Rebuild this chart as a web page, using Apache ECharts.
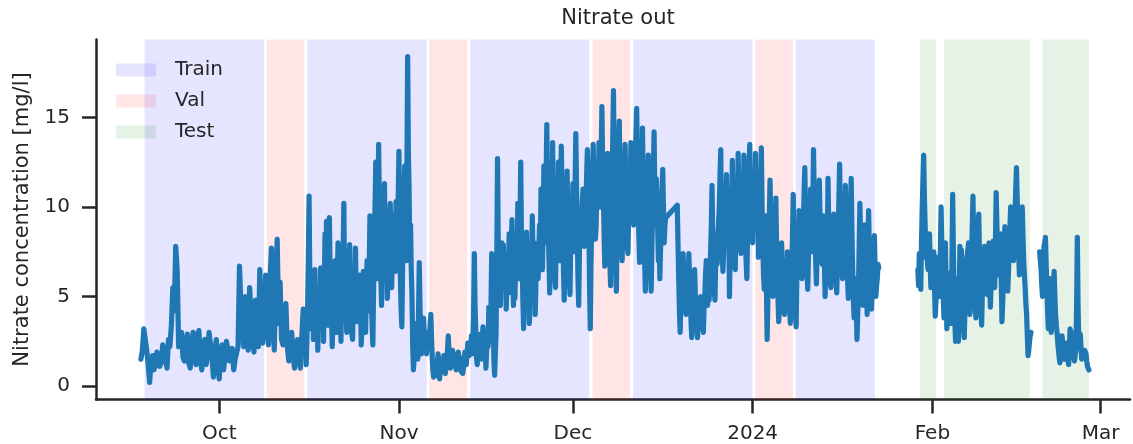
<!DOCTYPE html>
<html>
<head>
<meta charset="utf-8">
<script src="https://cdn.jsdelivr.net/npm/echarts@6/dist/echarts.min.js"></script>
<style>
html,body{margin:0;padding:0;background:#fff;}
#chart{width:1133px;height:444px;}
</style>
</head>
<body>
<div id="chart"></div>
<script>
// ---- data ----
const titleText = 'Nitrate out';
const yName = 'Nitrate concentration [mg/l]';
const tickDates = ['2023-10-01', '2023-11-01', '2023-12-01', '2024-01-01', '2024-02-01', '2024-03-01'];
const tickLabels = ['Oct', 'Nov', 'Dec', '2024', 'Feb', 'Mar'];
const yTicks = [0, 5, 10, 15];

// measurements, part 1a: one reading every 6 h
const seg1aStart = '2023-09-17T12:00:00Z';
const seg1aValues = [
  1.5, 2.0, 3.2, 2.6, 2.0, 1.2, 0.2, 1.4, 1.7, 0.9, 1.2, 1.9, 2.0, 1.1, 1.3, 2.3, 2.4, 1.5, 1.0, 2.6,
  2.2, 3.4, 5.5, 4.2, 7.8, 6.5, 2.2, 2.8, 3.0, 1.6, 1.4, 2.4, 2.9, 1.3, 1.0, 2.2, 3.0, 1.7, 1.2, 2.8,
  3.1, 1.5, 0.9, 2.4, 2.6, 1.2, 1.8, 3.0, 2.9, 1.6, 0.5, 1.9, 2.6, 1.1, 0.4, 2.0, 2.3, 0.9, 1.0, 2.5,
  2.0, 1.4, 1.3, 2.1, 0.9, 1.5, 1.6, 2.2, 6.7, 4.4, 3.0, 2.2, 5.0, 3.1, 2.0, 5.5, 4.0, 2.6, 1.9, 4.8,
  3.0, 2.2, 6.5, 3.6, 2.4, 3.5, 6.2, 4.0, 2.3, 5.8, 7.7, 3.8, 2.0, 6.0, 8.2, 3.5, 5.8, 2.6, 2.3, 3.6,
  4.6, 2.2, 1.4, 2.4, 3.0, 1.6, 1.0, 2.0, 2.6, 1.6
];
// part 1b: one reading every 3 h
const seg1bStart = '2023-10-15T00:00:00Z';
const seg1bValues = [
  1.0, 2.2, 2.8, 3.6, 4.3, 1.8, 2.4, 3.0, 1.2, 2.6, 4.5, 7.2, 10.6, 6.0, 5.5, 3.2, 4.0, 5.8, 2.6, 4.8,
  6.5, 4.2, 3.0, 5.0, 2.0, 3.8, 5.2, 3.4, 6.6, 5.0, 4.0, 6.2, 2.5, 5.5, 8.5, 4.6, 9.2, 5.8, 3.4, 6.8,
  9.4, 6.2, 5.0, 3.6, 2.2, 4.5, 6.0, 4.0, 7.0, 5.0, 3.0, 6.2, 8.0, 4.2, 5.5, 3.8, 2.5, 5.6, 4.0, 7.5,
  10.2, 5.0, 6.5, 4.4, 3.0, 5.8, 7.6, 4.8, 7.9, 5.6, 4.0, 2.9, 2.6, 4.6, 6.0, 4.2, 7.7, 5.2, 3.6, 5.4,
  5.0, 3.8, 6.2, 4.4, 2.3, 3.6, 4.8, 6.4, 5.6, 4.0, 3.0, 5.2, 7.0, 5.4, 4.2, 6.8, 9.5, 6.0, 5.0, 3.4,
  2.3, 5.4, 8.0, 10.0, 12.5, 8.0, 6.0, 9.5, 13.5, 10.0, 8.5, 6.2, 4.5, 7.0, 10.0, 7.6, 11.3, 8.2, 6.0, 9.0,
  4.9, 6.6, 7.5, 9.0, 10.2, 7.4, 5.5, 7.8, 6.5, 9.6, 8.8, 6.4, 10.3, 8.2, 7.0, 10.5, 13.1, 8.0, 6.0, 4.2,
  3.3, 6.5, 9.5, 11.0, 12.3, 9.0, 7.0, 12.0, 18.4, 13.0, 11.0, 7.0, 9.0, 6.5, 5.0, 2.2, 0.9, 1.6, 2.4, 2.0,
  3.5, 2.2, 1.5, 4.0, 6.9, 4.5, 2.8, 1.8, 2.5, 3.2, 3.8, 2.6, 3.0, 2.2, 1.8, 2.6, 2.2, 3.0, 2.8, 3.4,
  4.0, 2.6, 1.5, 0.8, 0.5, 0.9, 1.2, 0.6, 0.8, 1.3, 1.8, 0.9, 0.4, 0.8, 1.0, 1.5, 1.0, 1.2, 1.7, 1.2,
  0.7, 1.1, 1.4, 2.0, 2.8, 2.0, 1.6, 1.0, 1.2, 1.6, 2.0, 1.4, 1.8, 1.5, 1.2, 0.9,
  1.0, 1.5, 1.9, 1.2, 1.6, 1.0, 0.8, 1.2, 0.7, 1.0, 1.3, 1.9, 1.5, 1.2, 1.8, 2.4, 2.1, 1.7, 1.6, 2.3,
  2.8, 1.8, 2.2, 4.0, 7.4, 4.5, 3.0, 1.6, 1.2, 2.0, 2.3, 1.6, 2.9, 2.2, 1.5, 2.6, 3.3, 2.4, 2.0, 2.8,
  1.0, 2.0, 3.0, 2.2, 4.4, 3.2, 2.5, 4.6, 7.4, 5.0, 3.8, 1.5, 0.6, 1.8, 3.0, 7.0, 12.7, 8.0, 6.5, 5.0,
  4.5, 6.6, 8.0, 5.6, 7.9, 6.2, 5.5, 7.4, 4.3, 5.8, 7.0, 5.2, 8.5, 6.6, 5.8, 8.0, 9.3, 6.4, 4.5, 6.8,
  4.9, 6.8, 8.0, 6.2, 10.2, 7.8, 6.0, 9.0, 12.5, 8.4, 7.0, 4.8, 3.2, 4.6, 6.0, 7.6, 8.6, 6.5, 5.0, 6.8,
  3.5, 5.2, 7.5, 6.0, 9.5, 7.2, 6.0, 8.0, 4.0, 5.8, 7.8, 6.4, 6.0, 7.6, 9.0, 7.0, 11.0, 8.4, 6.5, 9.2,
  12.3, 9.6, 8.0, 11.5, 14.6, 10.5, 9.0, 7.0, 5.2, 8.2, 11.0, 8.8, 13.6, 10.0, 8.0, 6.2, 5.5, 8.4, 10.5, 8.6,
  12.5, 9.2, 7.0, 10.2, 13.4, 10.8, 9.5, 6.5, 4.8, 7.6, 10.0, 8.2, 12.0, 9.4, 7.5, 6.0, 5.1, 8.0, 10.5, 8.4,
  11.3, 8.8, 7.5, 11.0, 14.1, 11.2, 9.0, 6.0, 4.5, 7.4, 9.5, 7.8, 8.9, 10.2, 11.0, 9.0, 7.8, 9.2, 10.0, 11.8,
  13.2, 10.6, 9.5, 5.5, 3.2, 6.8, 9.0, 11.5, 13.5, 11.0, 9.5, 8.2, 8.9, 10.8, 12.0, 10.5, 13.6, 11.2, 10.0, 12.6,
  15.6, 12.5, 11.0, 8.5, 6.7, 9.2, 11.5, 9.6, 13.0, 10.8, 9.0, 7.0, 5.6, 8.6, 11.0, 13.8,
  16.5, 12.0, 10.0, 7.2, 5.3, 8.5, 11.0, 13.0, 14.8, 11.8, 10.0, 8.2, 7.0, 10.0, 12.5, 10.4, 13.5, 11.0, 9.0, 7.8,
  7.4, 9.8, 11.5, 10.2, 13.6, 11.6, 10.0, 11.4, 9.0, 11.0, 12.5, 14.0, 15.5, 12.5, 10.5, 8.4, 6.9, 9.5, 12.0, 10.2,
  14.4, 11.5, 9.0, 7.0, 5.3, 8.4, 11.0, 9.2, 12.9, 10.0, 8.0, 6.4, 5.3, 7.8, 10.0, 12.0, 14.2, 11.0, 9.0, 11.6,
  10.5, 8.8, 7.0, 8.2, 6.0, 7.8, 9.5, 11.0, 12.1, 9.8, 8.0, 9.0, 9.4, null, null, null, null, null, null, null,
  null, null, null, null, null, null, null, null, 10.1, 8.0, 6.0, 4.2, 3.0, 5.0, 6.5, 5.2, 7.4, 6.2, 5.5, 4.6,
  4.0, 5.6, 6.8, 5.4, 7.4, 6.0, 5.0, 3.6, 2.7, 4.4, 5.6, 4.8, 6.5, 5.0, 4.0, 3.2, 2.7, 3.8, 4.5, 3.8,
  5.0, 4.0, 3.2, 4.2, 3.0, 4.4, 5.0, 6.2, 7.0, 5.4, 4.5, 5.8, 4.8, 6.4, 7.5, 9.0, 11.2, 8.0, 6.5, 5.4,
  4.8, 6.8, 8.5, 6.8, 8.0, 9.2, 10.0, 11.8, 13.2, 9.4, 7.5, 6.4, 6.3, 8.6, 10.5, 9.0, 11.8, 9.6, 8.0, 9.8,
  5.0, 7.6, 10.0, 8.6, 12.6, 10.2, 8.5, 7.0, 6.5, 8.8, 11.0, 9.0, 13.0, 10.6, 9.0, 7.8, 7.4, 9.6, 11.5, 9.6,
  12.9, 10.2, 8.5, 7.0, 6.0, 8.4, 10.5, 12.0, 13.5, 10.8, 9.0, 8.2, 8.0, 10.0, 11.5, 9.8, 13.0, 10.8, 9.5, 11.0,
  7.2, 9.2, 11.0, 9.0, 13.3, 10.2, 8.0, 6.2, 5.4, 7.8, 9.5, 5.5, 2.6, 4.8, 7.0, 9.5,
  11.5, 9.4, 8.0, 6.2, 5.0, 7.4, 9.0, 7.0, 10.5, 8.0, 6.5, 4.8, 3.6, 4.6, 6.0, 7.2, 8.0, 6.2, 5.0, 4.2,
  4.0, 5.6, 7.0, 5.8, 7.5, 6.4, 5.5, 4.4, 3.5, 4.8, 6.5, 8.4, 10.7, 7.6, 6.0, 4.2, 3.3, 6.0, 8.5, 7.0,
  9.8, 8.2, 7.5, 6.2, 6.0, 7.6, 9.0, 10.8, 12.2, 9.6, 8.0, 6.4, 5.4, 7.2, 9.5, 8.2, 11.0, 9.0, 7.5, 10.0,
  13.2, 10.6, 9.0, 7.0, 5.7, 7.8, 10.0, 8.6, 11.5, 9.4, 8.0, 7.0, 6.8, 8.2, 9.5, 7.0, 5.0, 6.6, 8.5, 7.4,
  11.6, 9.0, 7.0, 6.0, 5.5, 7.4, 9.0, 7.8, 9.6, 8.2, 7.0, 6.0, 5.2, 6.8, 8.5, 10.4, 12.4, 9.6, 8.0, 6.8,
  6.0, 8.2, 10.0, 8.8, 11.2, 9.0, 7.5, 6.0, 4.9, 6.4, 8.0, 9.8, 11.6, 8.6, 6.5, 4.8, 3.8, 5.0, 6.0, 4.6,
  2.6, 4.0, 5.5, 7.8, 10.2, 8.0, 6.5, 5.4, 4.5, 6.2, 8.0, 9.0, 7.5, 5.6, 4.0, 6.8, 9.8, 7.6, 6.0, 5.0,
  4.3, 5.6, 7.0, 7.8, 8.4, 6.6, 5.0, 5.6, 6.0, 6.8, 6.6
];
// test periods: one reading every 3 h
const seg2Start = '2024-01-29T12:00:00Z';
const seg2Values = [
  6.5, 5.6, 7.4, 6.0, 5.4, 8.0, 10.0, 11.5, 12.9, 10.5, 9.0, 7.2, 8.0, 7.0, 6.5, 7.6, 8.5, 6.8, 5.5, 6.6,
  6.0, 6.8, 7.5, 5.4, 3.9, 4.8, 6.0, 6.8, 7.2, 6.0, 5.0, 7.4, 10.0, 7.8, 6.5, 5.0, 3.8, 5.8, 8.0, 5.4,
  3.2, 4.2, 5.0, 5.8, 6.3, 4.6, 3.5, 6.8, 10.7, 7.4, 5.0, 3.6, 2.5, 4.2, 6.0, 4.0, 2.5, 5.0, 7.8, 6.4,
  7.6, 5.6, 4.0, 3.2, 2.7, 4.4, 6.5, 7.0, 7.3, 7.6, 8.0, 6.0, 4.0, 5.4, 7.0, 8.8, 10.6, 8.0, 6.0, 4.8,
  3.8, 6.0, 8.5, 9.0, 9.6, 7.4, 5.5, 4.2, 3.4, 5.4, 7.5, 7.0, 7.8, 6.8, 6.0, 5.4, 5.1, 6.6, 8.0, 6.0,
  4.4, 5.6, 7.0, 7.6, 8.1, 6.8, 5.5, 8.0, 10.8, 9.0, 7.5, 6.6, 6.2, 7.4, 8.5, 6.0, 3.6, 4.6, 6.0, 7.4,
  8.9, 7.6, 6.5, 5.8, 5.3, 6.4, 7.5, 8.8, 10.0, 9.0, 8.0, 7.4, 7.0, 8.2, 9.5, 11.0, 12.2, 10.5, 9.0, 7.6,
  6.2, 8.0, 9.5, 8.6, 10.0, 8.4, 7.0, 6.2, 5.5, 4.6, 4.0, 2.8, 1.7, 2.0, 2.5, 2.8, 3.0
];
const seg3Start = '2024-02-19T12:00:00Z';
const seg3Values = [
  7.5, 7.0, 6.5, 5.6, 5.0, 6.4, 7.8, 8.0, 8.3, 6.8, 5.5, 4.2, 3.2, 4.6, 6.0, 4.4, 3.0, 3.6, 4.5, 5.6,
  6.4, 5.0, 4.0, 3.4, 3.0, 2.4, 2.0, 1.6, 1.3, 1.8, 2.4, 2.8, 2.2, 1.8, 1.5, 2.0, 2.4, 2.0, 1.6, 1.4,
  1.2, 2.2, 3.2, 2.6, 3.0, 2.4, 1.8, 1.6, 1.4, 1.7, 2.0, 4.5, 8.3, 4.5, 2.5, 2.6, 2.9, 2.2, 1.5, 1.4,
  1.4, 1.7, 2.0, 1.9, 1.8, 1.4, 1.1, 1.0, 0.9
];

// split periods
const trainSpans = [
  ['2023-09-18T03:00:00Z', '2023-10-08T18:00:00Z'],
  ['2023-10-16T04:00:00Z', '2023-11-05T19:00:00Z'],
  ['2023-11-13T07:00:00Z', '2023-12-03T20:00:00Z'],
  ['2023-12-11T09:00:00Z', '2023-12-31T23:00:00Z'],
  ['2024-01-08T10:00:00Z', '2024-01-22T02:00:00Z']
];
const valSpans = [
  ['2023-10-09T05:00:00Z', '2023-10-15T17:00:00Z'],
  ['2023-11-06T06:00:00Z', '2023-11-12T18:00:00Z'],
  ['2023-12-04T09:00:00Z', '2023-12-10T21:00:00Z'],
  ['2024-01-01T11:00:00Z', '2024-01-07T23:00:00Z']
];
const testSpans = [
  ['2024-01-29T21:00:00Z', '2024-02-01T15:00:00Z'],
  ['2024-02-03T00:00:00Z', '2024-02-17T19:00:00Z'],
  ['2024-02-20T00:00:00Z', '2024-02-28T00:00:00Z']
];
const xMin = '2023-09-09T18:00:00Z';
const xMax = '2024-03-06T02:00:00Z';

// ---- build ----
const HOUR = 3600 * 1000;
function toSeries(start, vals, stepHours) {
  const t0 = Date.parse(start);
  return vals.map((v, i) => [t0 + i * stepHours * HOUR, v]);
}
const tickTimes = tickDates.map(d => Date.parse(d + 'T00:00:00Z'));
function spansToArea(spans) {
  return spans.map(s => [{ xAxis: Date.parse(s[0]) }, { xAxis: Date.parse(s[1]) }]);
}
const TXT = '#262626';
const FONT = 'DejaVu Sans';
const lineColor = '#1f77b4';

function spanSeries(name, color, spans) {
  return {
    name: name, type: 'line', data: [], silent: true,
    itemStyle: { color: color }, lineStyle: { color: color },
    markArea: { silent: true, itemStyle: { color: color, borderWidth: 0 }, data: spansToArea(spans) },
    z: 1
  };
}
function dataSeries(points) {
  return {
    type: 'line', data: points, showSymbol: false, symbol: 'none',
    connectNulls: true, silent: true, sampling: null,
    lineStyle: { color: lineColor, width: 5.2, cap: 'round', join: 'round' },
    itemStyle: { color: lineColor }, z: 3
  };
}

const chart = echarts.init(document.getElementById('chart'), null, { renderer: 'canvas' });
chart.setOption({
  animation: false,
  backgroundColor: '#ffffff',
  textStyle: { fontFamily: FONT },
  title: {
    text: titleText, left: 613, top: 3, textAlign: 'center',
    textStyle: { fontFamily: FONT, fontSize: 21, fontWeight: 'normal', color: TXT }
  },
  legend: {
    orient: 'vertical', left: 111, top: 55, icon: 'rect',
    itemWidth: 40, itemHeight: 13, itemGap: 11,
    data: ['Train', 'Val', 'Test'],
    textStyle: { fontFamily: FONT, fontSize: 20, color: TXT, padding: [0, 0, 0, 14] },
    selectedMode: false
  },
  grid: { left: 96, right: 3, top: 39.5, bottom: 44.5, containLabel: false },
  xAxis: {
    type: 'value', min: Date.parse(xMin), max: Date.parse(xMax),
    axisLine: { show: true, onZero: false, lineStyle: { color: TXT, width: 2.5 } },
    axisTick: { show: true, length: 14, lineStyle: { color: TXT, width: 2.5 }, customValues: tickTimes },
    axisLabel: {
      customValues: tickTimes, margin: 24, color: TXT, fontFamily: FONT, fontSize: 20,
      formatter: function (v) { const i = tickTimes.indexOf(v); return i >= 0 ? tickLabels[i] : ''; }
    },
    splitLine: { show: false }
  },
  yAxis: {
    type: 'value', min: -0.75, max: 19.35,
    name: yName, nameLocation: 'middle', nameGap: 63, nameRotate: 90,
    nameTextStyle: { fontFamily: FONT, fontSize: 21, color: TXT },
    axisLine: { show: true, onZero: false, lineStyle: { color: TXT, width: 2.5 } },
    axisTick: { show: true, length: 14, lineStyle: { color: TXT, width: 2.5 }, customValues: yTicks },
    axisLabel: { customValues: yTicks, margin: 26, color: TXT, fontFamily: FONT, fontSize: 20 },
    splitLine: { show: false }
  },
  series: [
    spanSeries('Train', 'rgba(0,0,255,0.1)', trainSpans),
    spanSeries('Val', 'rgba(255,0,0,0.1)', valSpans),
    spanSeries('Test', 'rgba(0,128,0,0.1)', testSpans),
    dataSeries(toSeries(seg1aStart, seg1aValues, 6).concat(toSeries(seg1bStart, seg1bValues, 3))),
    dataSeries(toSeries(seg2Start, seg2Values, 3)),
    dataSeries(toSeries(seg3Start, seg3Values, 3))
  ]
});
</script>
</body>
</html>
